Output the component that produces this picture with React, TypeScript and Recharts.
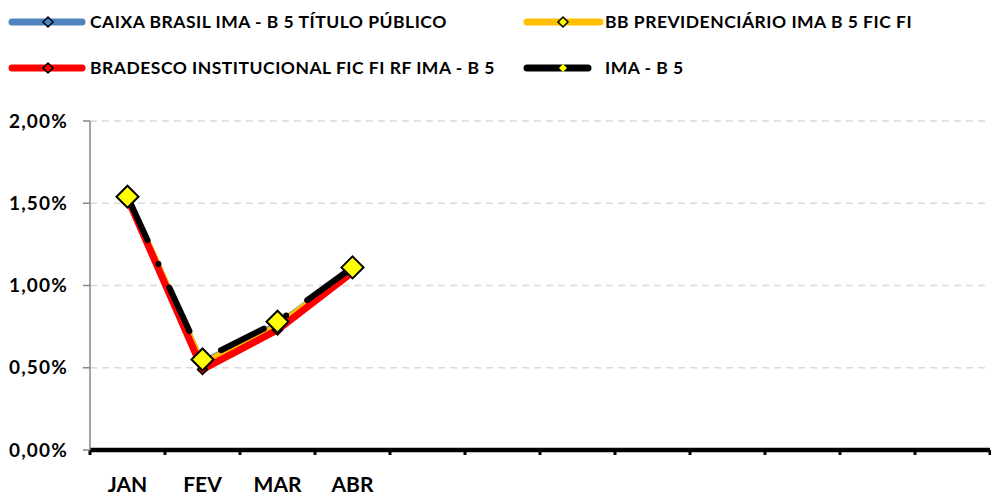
import React from "react";
import { LineChart, Line, XAxis, YAxis, CartesianGrid } from "recharts";

const months = ["JAN", "FEV", "MAR", "ABR", "", "", "", "", "", "", "", ""];
const caixa = [1.54, 0.54, 0.77, 1.1];
const bb = [1.55, 0.53, 0.76, 1.1];
const bradesco = [1.53, 0.49, 0.73, 1.08];
const imaB5 = [1.54, 0.55, 0.78, 1.11];
const yTicks = [0, 0.5, 1, 1.5, 2];

const FONT = "Lato, 'Open Sans', sans-serif";

const data = months.map((mes, i) => ({
  x: i + 0.5,
  mes,
  caixa: caixa[i] ?? null,
  bb: bb[i] ?? null,
  bradesco: bradesco[i] ?? null,
  ima: imaB5[i] ?? null,
}));

const boundaryTicks = months.map((_, i) => i).concat(months.length);
const labelTicks = months.map((_, i) => i + 0.5).filter((_, i) => months[i] !== "");

const series = [
  { key: "caixa", name: "CAIXA BRASIL IMA - B 5 TÍTULO PÚBLICO", color: "#4F81BD", width: 4, dot: "#4F81BD", col: 0, row: 0 },
  { key: "bb", name: "BB PREVIDENCIÁRIO IMA B 5 FIC FI", color: "#FFC000", width: 5, dot: "#FFFF00", col: 1, row: 0 },
  { key: "bradesco", name: "BRADESCO INSTITUCIONAL FIC FI RF IMA - B 5", color: "#FF0000", width: 7, dot: "#FF0000", col: 0, row: 1 },
  { key: "ima", name: "IMA - B 5", color: "#000000", width: 6, dot: "#FFFF00", col: 1, row: 1 },
];

const fmtPct = (v: number) => v.toFixed(2).replace(".", ",") + "%";

const diamond = (size: number, fill: string, sw: number) => (props: any) => {
  const { cx, cy, index } = props;
  if (cx == null || cy == null) return <g key={"d" + index} />;
  const pts = `${cx},${cy - size} ${cx + size},${cy} ${cx},${cy + size} ${cx - size},${cy}`;
  return <polygon key={"d" + index} points={pts} fill={fill} stroke="#000" strokeWidth={sw} strokeLinejoin="miter" />;
};

// no label on the boundary ticks, only the tick mark
const EmptyTick = () => <g />;

function LegendBox() {
  const cols = [
    { lineX: 12, lineW: 70, textX: 90 },
    { lineX: 527, lineW: 73, textX: 605 },
  ];
  const rows = [22, 68];
  return (
    <>
      {series.map((s) => {
        const c = cols[s.col];
        const w = s.key === "ima" ? 61 : c.lineW;
        const cy = rows[s.row];
        const mx = 5 + 36;
        const ms = s.key === "ima" ? 4 : 5;
        return (
          <div key={s.key}>
            <svg
              width={100}
              height={20}
              style={{ position: "absolute", left: c.lineX - 5, top: cy - 10 }}
            >
              <line x1={5} y1={10} x2={5 + w} y2={10} stroke={s.color} strokeWidth={7} strokeLinecap="round" />
              <polygon
                points={`${mx},${10 - ms} ${mx + ms},10 ${mx},${10 + ms} ${mx - ms},10`}
                fill={s.dot}
                stroke="#000"
                strokeWidth={s.key === "ima" ? 0 : 1.5}
              />
            </svg>
            <div
              style={{
                position: "absolute",
                left: c.textX,
                top: cy - 12,
                fontFamily: FONT,
                fontWeight: 700,
                fontSize: 17.5,
                letterSpacing: 0.5,
                lineHeight: "24px",
                color: "#000",
                whiteSpace: "nowrap",
              }}
            >
              {s.name}
            </div>
          </div>
        );
      })}
    </>
  );
}

export default function App() {
  return (
    <div style={{ position: "absolute", left: 0, top: 0, width: 991, height: 495, background: "#fff" }}>
      <LineChart width={991} height={495} data={data} margin={{ top: 121, right: 1, bottom: 0, left: 0 }}>
        <CartesianGrid
          xAxisId="a"
          vertical={false}
          stroke="#D9D9D9"
          strokeWidth={1.5}
          strokeDasharray="7 5"
        />
        <XAxis
          xAxisId="a"
          type="number"
          dataKey="x"
          domain={[0, months.length]}
          ticks={boundaryTicks}
          interval={0}
          tick={<EmptyTick />}
          tickSize={5}
          tickLine={{ stroke: "#000", strokeWidth: 3 }}
          axisLine={{ stroke: "#000", strokeWidth: 4.5 }}
          height={5}
        />
        <XAxis
          xAxisId="b"
          type="number"
          dataKey="x"
          domain={[0, months.length]}
          ticks={labelTicks}
          interval={0}
          tickFormatter={(v: number) => months[Math.floor(v)]}
          axisLine={false}
          tickLine={false}
          tickSize={0}
          tickMargin={22}
          height={40}
          tick={{ fill: "#000", fontSize: 21, fontWeight: 700, fontFamily: FONT }}
        />
        <YAxis
          domain={[0, 2]}
          ticks={yTicks}
          interval={0}
          width={90}
          tickFormatter={fmtPct}
          axisLine={{ stroke: "#868686", strokeWidth: 1.5 }}
          tickLine={{ stroke: "#868686", strokeWidth: 1.5 }}
          tickSize={7}
          tickMargin={15}
          tick={{ fill: "#000", fontSize: 19, fontWeight: 700, fontFamily: FONT, letterSpacing: 1.2 }}
        />
        {series.map((s) => (
          <Line
            key={s.key}
            xAxisId="a"
            dataKey={s.key}
            name={s.name}
            type="linear"
            stroke={s.color}
            strokeWidth={s.width}
            strokeDasharray={s.key === "ima" ? "48 26 0 26" : undefined}
            strokeLinecap="round"
            strokeLinejoin="round"
            dot={s.key === "ima" ? diamond(11, "#FFFF00", 2) : diamond(5, s.dot, 1.5)}
            activeDot={false}
            isAnimationActive={false}
          />
        ))}
      </LineChart>
      <LegendBox />
    </div>
  );
}
